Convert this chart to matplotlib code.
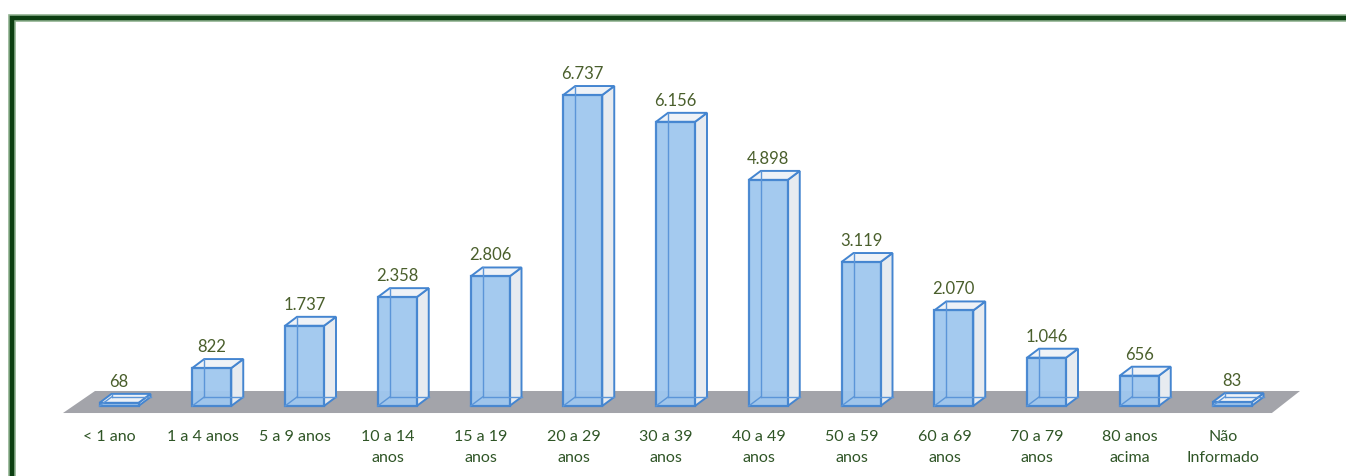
import matplotlib.pyplot as plt
from matplotlib.patches import Polygon, Rectangle

# --- dados ---
faixas = ["< 1 ano", "1 a 4 anos", "5 a 9 anos", "10 a 14\nanos", "15 a 19\nanos",
          "20 a 29\nanos", "30 a 39\nanos", "40 a 49\nanos", "50 a 59\nanos",
          "60 a 69\nanos", "70 a 79\nanos", "80 anos\nacima", "Não\nInformado"]
casos = [68, 822, 1737, 2358, 2806, 6737, 6156, 4898, 3119, 2070, 1046, 656, 83]
rotulos = ["68", "822", "1.737", "2.358", "2.806", "6.737", "6.156", "4.898",
           "3.119", "2.070", "1.046", "656", "83"]

W, H = 1346, 476
fig = plt.figure(figsize=(W / 100, H / 100), dpi=100)
ax = fig.add_axes([0, 0, 1, 1])
ax.set_axis_off()

# escala: centro da categoria 0 em x=119 px, passo 92.75 px; valor 0 em y=406 px
px_x = 92.75
px_y = 0.04616
ax.set_xlim(-119 / px_x, (W - 119) / px_x)
ax.set_ylim(-(H - 406) / px_y, 406 / px_y)

n = len(casos)
w = 39 / px_x          # largura da face frontal
ddx = 12 / px_x        # profundidade 3D
ddy = 9 / px_y

# --- piso cinza ---
piso = Polygon([(-0.604, -152), (n - 0.57, -152), (n - 0.267, 325), (-0.259, 325)],
               closed=True, facecolor="#a3a4aa", edgecolor="none", zorder=1)
ax.add_patch(piso)

edge = "#4485d0"
fonte = ["Lato", "DejaVu Sans"]
for i, h in enumerate(casos):
    x0, x1 = i - w / 2, i + w / 2
    # lateral direita
    ax.add_patch(Polygon([(x1, 0), (x1 + ddx, ddy), (x1 + ddx, h + ddy), (x1, h)],
                         facecolor="#e7ebf0", edgecolor=edge, lw=1.4, zorder=2))
    # topo
    ax.add_patch(Polygon([(x0, h), (x1, h), (x1 + ddx, h + ddy), (x0 + ddx, h + ddy)],
                         facecolor="#eef2f7", edgecolor=edge, lw=1.4, zorder=2))
    # frente
    ax.add_patch(Rectangle((x0, 0), w, h, facecolor="#9fc7ef", edgecolor=edge,
                           lw=1.6, alpha=0.95, zorder=3))
    # arestas de trás vistas pela transparência
    ax.plot([x0 + ddx, x0 + ddx], [ddy, h + ddy], color="#5b95d8", lw=1.0, zorder=4)
    ax.plot([x0 + ddx, x1 + ddx], [ddy, ddy], color="#5b95d8", lw=1.0, zorder=4)
    ax.plot([x0, x0 + ddx], [0, ddy], color="#5b95d8", lw=1.0, zorder=4)
    # rótulo do valor
    ax.annotate(rotulos[i], (i, h + ddy), xytext=(0, 3), textcoords="offset points",
                ha="center", va="bottom", fontsize=12, color="#4a5f2c",
                family=fonte, zorder=5)
    # rótulo da categoria
    ax.text(i - 0.1, -(430 - 406) / px_y, faixas[i], ha="center", va="top",
            fontsize=11.5, color="#2f5526", linespacing=1.6, family=fonte)

# --- moldura verde ---
fx, fy = 12 / W, 1 - 18 / H
fig.patches.append(Rectangle((fx, -0.2), 1.2, fy + 0.2, transform=fig.transFigure,
                             fill=False, edgecolor="#8fb28f", lw=5.5, zorder=10))
fig.patches.append(Rectangle((fx, -0.2), 1.2, fy + 0.2, transform=fig.transFigure,
                             fill=False, edgecolor="#0d3f12", lw=3.2, zorder=11))

fig.savefig("out.png", dpi=100)
